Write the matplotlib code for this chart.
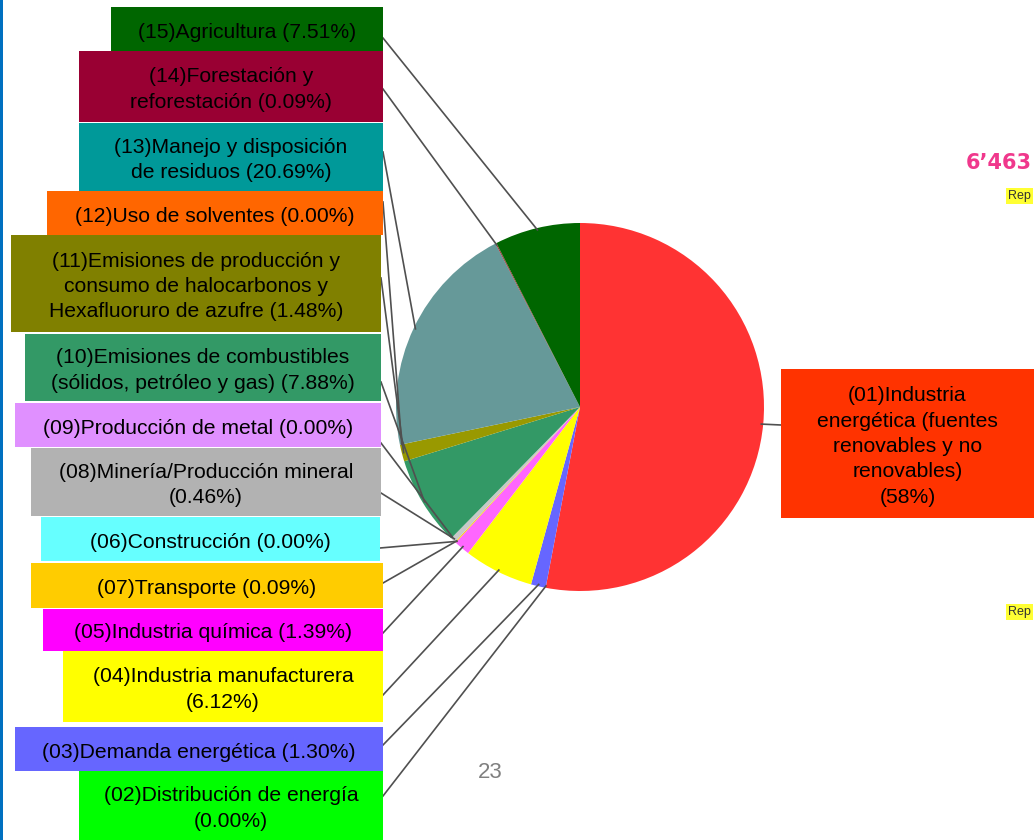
import matplotlib
matplotlib.use('Agg')
import matplotlib.pyplot as plt
from matplotlib.patches import Rectangle
import numpy as np

plt.rcParams['font.family'] = ['Liberation Sans', 'DejaVu Sans']

# emission categories, in pie order (clockwise from 12 o'clock)
codes = ['01', '02', '03', '04', '05', '06', '07', '08', '09', '10', '11', '12', '13', '14', '15']
labels = [
    '(01)Industria\nenergética (fuentes\nrenovables y no\nrenovables)\n(58%)',
    '(02)Distribución de energía\n(0.00%)',
    '(03)Demanda energética (1.30%)',
    '(04)Industria manufacturera\n(6.12%)',
    '(05)Industria química (1.39%)',
    '(06)Construcción (0.00%)',
    '(07)Transporte (0.09%)',
    '(08)Minería/Producción mineral\n(0.46%)',
    '(09)Producción de metal (0.00%)',
    '(10)Emisiones de combustibles\n(sólidos, petróleo y gas) (7.88%)',
    '(11)Emisiones de producción y\nconsumo de halocarbonos y\nHexafluoruro de azufre (1.48%)',
    '(12)Uso de solventes (0.00%)',
    '(13)Manejo y disposición\nde residuos (20.69%)',
    '(14)Forestación y\nreforestación (0.09%)',
    '(15)Agricultura (7.51%)',
]
# share of total (%) - energy slice as drawn (~53%), label says 58%
shares = [52.99, 0.00, 1.30, 6.12, 1.39, 0.00, 0.09, 0.46, 0.00, 7.88, 1.48, 0.00, 20.69, 0.09, 7.51]

pie_colors = ['#FF3333', '#00FF00', '#6666FF', '#FFFF00', '#FF66FF', '#66FFFF', '#FFCC00',
              '#C8C8C8', '#E090FF', '#339966', '#999900', '#FF6600', '#669999', '#993333', '#006600']
box_colors = ['#FF3300', '#00FF00', '#6666FF', '#FFFF00', '#FF00FF', '#66FFFF', '#FFCC00',
              '#B2B2B2', '#E090FF', '#339966', '#808000', '#FF6600', '#009999', '#990033', '#006600']

# label box layout in pixels from top-left: x0, top, x1, bottom, leader anchor y
box_layout = {
    '01': (781, 369, 1034, 518, 425),
    '02': (79, 771, 383, 840, 796),
    '03': (15, 727, 383, 771, 745),
    '04': (63, 651, 383, 722, 695),
    '05': (43, 609, 383, 651, 633),
    '06': (41, 517, 380, 561, 548),
    '07': (31, 563, 383, 608, 583),
    '08': (31, 448, 381, 516, 493),
    '09': (15, 403, 381, 447, 443),
    '10': (25, 334, 381, 401, 382),
    '11': (11, 235, 381, 332, 278),
    '12': (47, 191, 383, 235, 202),
    '13': (79, 123, 383, 191, 152),
    '14': (79, 51, 383, 122, 89),
    '15': (111, 7, 383, 51, 38),
}

W, H = 1034, 840
cx, cy, r = 580, H - 407, 184

fig = plt.figure(figsize=(W / 100, H / 100), dpi=100)
ax = fig.add_axes([0, 0, 1, 1])

wedges, _ = ax.pie(shares, colors=pie_colors, startangle=90, counterclock=False,
                   center=(cx, cy), radius=r, wedgeprops=dict(linewidth=0))

for code, lab, w, bc in zip(codes, labels, wedges, box_colors):
    x0, top, x1, bot, ay = box_layout[code]
    ax.add_patch(Rectangle((x0, H - bot), x1 - x0, bot - top, facecolor=bc,
                           edgecolor='none', zorder=3))
    ax.text((x0 + x1) / 2, H - (top + bot) / 2 - 3, lab, ha='center', va='center',
            fontsize=15.2, linespacing=1.42, color='black', zorder=4)
    mid = np.deg2rad((w.theta1 + w.theta2) / 2)
    px, py = cx + 0.99 * r * np.cos(mid), cy + 0.99 * r * np.sin(mid)
    sx = x0 if code == '01' else x1
    ax.plot([sx, px], [H - ay, py], color='#505050', lw=1.2, zorder=2)

# slide decorations
ax.add_patch(Rectangle((0, 0), 3, H, facecolor='#0070C0', edgecolor='none', zorder=5))
ax.text(490, H - 773, '23', ha='center', va='center', fontsize=16, color='#808080')
ax.text(966, H - 163, '6’463', ha='left', va='center', fontsize=15, fontweight='bold',
        color='#F0388C', family='DejaVu Sans')
for ry in (196, 612):
    ax.text(1008, H - ry, 'Rep', ha='left', va='center', fontsize=9, color='#333333',
            bbox=dict(boxstyle='square,pad=0.15', facecolor='#FFFF33', edgecolor='none'))

ax.set_xlim(0, W)
ax.set_ylim(0, H)
ax.set_aspect('equal')
ax.axis('off')

fig.savefig('out.png', dpi=100)
